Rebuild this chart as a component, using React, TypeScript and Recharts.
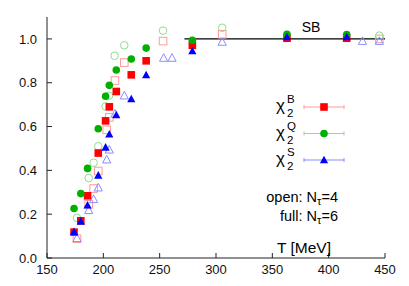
import React from "react";
import { ScatterChart, Scatter, XAxis, YAxis, ReferenceLine, Legend } from "recharts";

// axis ticks
const xTicks = [150, 200, 250, 300, 350, 400, 450];
const yTicks = [0, 0.2, 0.4, 0.6, 0.8, 1.0];

// full: N_tau = 6 (filled symbols)
const fullT = [174, 180, 186, 195.5, 202, 205.3, 211.5, 224.8, 238, 279, 363, 416];
const fullB = [0.118, 0.17, 0.284, 0.479, 0.626, 0.69, 0.76, 0.836, 0.9, 0.971, 1.003, 1.003];
const fullQ = [0.226, 0.294, 0.409, 0.59, 0.738, 0.788, 0.858, 0.908, 0.958, 0.994, 1.021, 1.02];
const fullS = [0.12, 0.167, 0.241, 0.377, 0.505, 0.565, 0.653, 0.726, 0.835, 0.945, 1.009, 1.009];

// open: N_tau = 4 (open symbols)
const openTB = [176.6, 187, 191.4, 195.5, 203, 205.3, 210.3, 218.6, 253, 305.5, 445];
const openB = [0.088, 0.245, 0.317, 0.397, 0.585, 0.642, 0.81, 0.892, 0.99, 1.021, 1.0];
const openTQ = [176.6, 187, 191.4, 195.5, 202, 205, 210, 218.6, 253, 305.5, 445];
const openQ = [0.183, 0.365, 0.435, 0.51, 0.692, 0.741, 0.923, 0.971, 1.038, 1.051, 1.015];
const openTS = [176.6, 187, 191.4, 195.5, 203, 205.3, 210.3, 218.6, 253.5, 261, 305.5, 430, 445];
const openS = [0.09, 0.218, 0.268, 0.321, 0.449, 0.494, 0.658, 0.741, 0.913, 0.913, 0.986, 0.99, 0.99];

// Stefan-Boltzmann limit
const sbRange = [272, 450];
const sbValue = 1.0;

const zip = (ts: number[], vs: number[]) => ts.map((t, i) => ({ t, v: vs[i] }));

const RED = "#ff0000";
const GREEN = "#00b000";
const BLUE = "#0000ff";
const PALE_RED = "#ff9a9a";
const PALE_GREEN = "#8fdc8f";
const PALE_BLUE = "#8c8cff";
const AXIS = "#222";
const FONT = "'Liberation Sans', Arial, Helvetica, sans-serif";

function mark(kind: string, cx: number, cy: number, filled: boolean, color: string) {
  const s = 3.8;
  const fill = filled ? color : "none";
  const sw = filled ? 0 : 1;
  if (kind === "square")
    return <rect x={cx - s} y={cy - s} width={2 * s} height={2 * s} fill={fill} stroke={color} strokeWidth={sw} />;
  if (kind === "circle")
    return <circle cx={cx} cy={cy} r={s} fill={fill} stroke={color} strokeWidth={sw} />;
  return (
    <polygon
      points={`${cx},${cy - s - 0.5} ${cx + s + 0.3},${cy + s - 0.5} ${cx - s - 0.3},${cy + s - 0.5}`}
      fill={fill}
      stroke={color}
      strokeWidth={sw}
    />
  );
}

const shapeOf = (kind: string, filled: boolean, color: string) => (p: any) =>
  <g>{mark(kind, p.cx, p.cy, filled, color)}</g>;

const legendRows = [
  { sup: "B", kind: "square", color: RED, pale: PALE_RED },
  { sup: "Q", kind: "circle", color: GREEN, pale: PALE_GREEN },
  { sup: "S", kind: "triangle", color: BLUE, pale: PALE_BLUE },
];

function LegendBox() {
  return (
    <svg width={90} height={85} style={{ display: "block", overflow: "visible" }}>
      {legendRows.map((r, i) => {
        const y = 17 + 26.5 * i;
        return (
          <g key={r.sup} fontFamily={FONT} fill="#000">
            <text x={6} y={y + 4} fontSize={17}>χ</text>
            <text x={17} y={y + 10} fontSize={11.5}>2</text>
            <text x={17} y={y - 4} fontSize={11.5}>{r.sup}</text>
            <line x1={34} x2={74} y1={y} y2={y} stroke={r.pale} strokeWidth={1} />
            <line x1={34} x2={34} y1={y - 2} y2={y + 2} stroke={r.pale} strokeWidth={1} />
            <line x1={74} x2={74} y1={y - 2} y2={y + 2} stroke={r.pale} strokeWidth={1} />
            {mark(r.kind, 54, y, true, r.color)}
          </g>
        );
      })}
    </svg>
  );
}

const tickStyle = { fontSize: 13, fill: "#111", fontFamily: FONT };

export default function App() {
  return (
    <div style={{ position: "absolute", left: 0, top: 0, width: 409, height: 286, background: "#fff" }}>
      <ScatterChart width={409} height={286} margin={{ top: 17, right: 24, bottom: 0, left: 0 }}>
        <XAxis
          xAxisId={0}
          type="number"
          dataKey="t"
          domain={[150, 450]}
          ticks={xTicks}
          height={28}
          tickSize={-5}
          tickMargin={12}
          stroke={AXIS}
          tick={tickStyle}
          allowDataOverflow
        />
        <XAxis
          xAxisId="top"
          orientation="top"
          type="number"
          dataKey="t"
          domain={[150, 450]}
          ticks={xTicks}
          height={0}
          tickSize={-5}
          stroke={AXIS}
          tickFormatter={() => ""}
          allowDataOverflow
        />
        <YAxis
          yAxisId={0}
          type="number"
          dataKey="v"
          domain={[0, 1.1]}
          ticks={yTicks}
          width={47}
          tickSize={-5}
          tickMargin={15}
          stroke={AXIS}
          tick={tickStyle}
          tickFormatter={(v) => Number(v).toFixed(1)}
          allowDataOverflow
        />
        <YAxis
          yAxisId="right"
          orientation="right"
          type="number"
          dataKey="v"
          domain={[0, 1.1]}
          ticks={yTicks}
          width={0}
          tickSize={-5}
          stroke={AXIS}
          tickFormatter={() => ""}
          allowDataOverflow
        />
        <ReferenceLine
          segment={[{ x: sbRange[0], y: sbValue }, { x: sbRange[1], y: sbValue }]}
          stroke="#000"
          strokeWidth={1.3}
          ifOverflow="visible"
        />
        <Scatter name="open B" data={zip(openTB, openB)} shape={shapeOf("square", false, PALE_RED)} isAnimationActive={false} />
        <Scatter name="open Q" data={zip(openTQ, openQ)} shape={shapeOf("circle", false, PALE_GREEN)} isAnimationActive={false} />
        <Scatter name="open S" data={zip(openTS, openS)} shape={shapeOf("triangle", false, PALE_BLUE)} isAnimationActive={false} />
        <Scatter name="χ2B" data={zip(fullT, fullB)} shape={shapeOf("square", true, RED)} isAnimationActive={false} />
        <Scatter name="χ2Q" data={zip(fullT, fullQ)} shape={shapeOf("circle", true, GREEN)} isAnimationActive={false} />
        <Scatter name="χ2S" data={zip(fullT, fullS)} shape={shapeOf("triangle", true, BLUE)} isAnimationActive={false} />
        <Legend
          layout="vertical"
          align="center"
          verticalAlign="middle"
          content={() => <LegendBox />}
          wrapperStyle={{ left: 270, top: 90, width: 90, height: 85 }}
        />
      </ScatterChart>
      <svg
        width={409}
        height={286}
        style={{ position: "absolute", left: 0, top: 0, pointerEvents: "none" }}
        fontFamily={FONT}
      >
        <text x={311} y={32} fontSize={14} textAnchor="middle">SB</text>
        <text x={338} y={202} fontSize={14.5} textAnchor="end">
          open: N<tspan fontSize={11} dy={3}>τ</tspan><tspan dy={-3}>=4</tspan>
        </text>
        <text x={338} y={221} fontSize={14.5} textAnchor="end">
          full: N<tspan fontSize={11} dy={3}>τ</tspan><tspan dy={-3}>=6</tspan>
        </text>
        <text x={331} y={253} fontSize={15.5} textAnchor="end">T [MeV]</text>
      </svg>
    </div>
  );
}
